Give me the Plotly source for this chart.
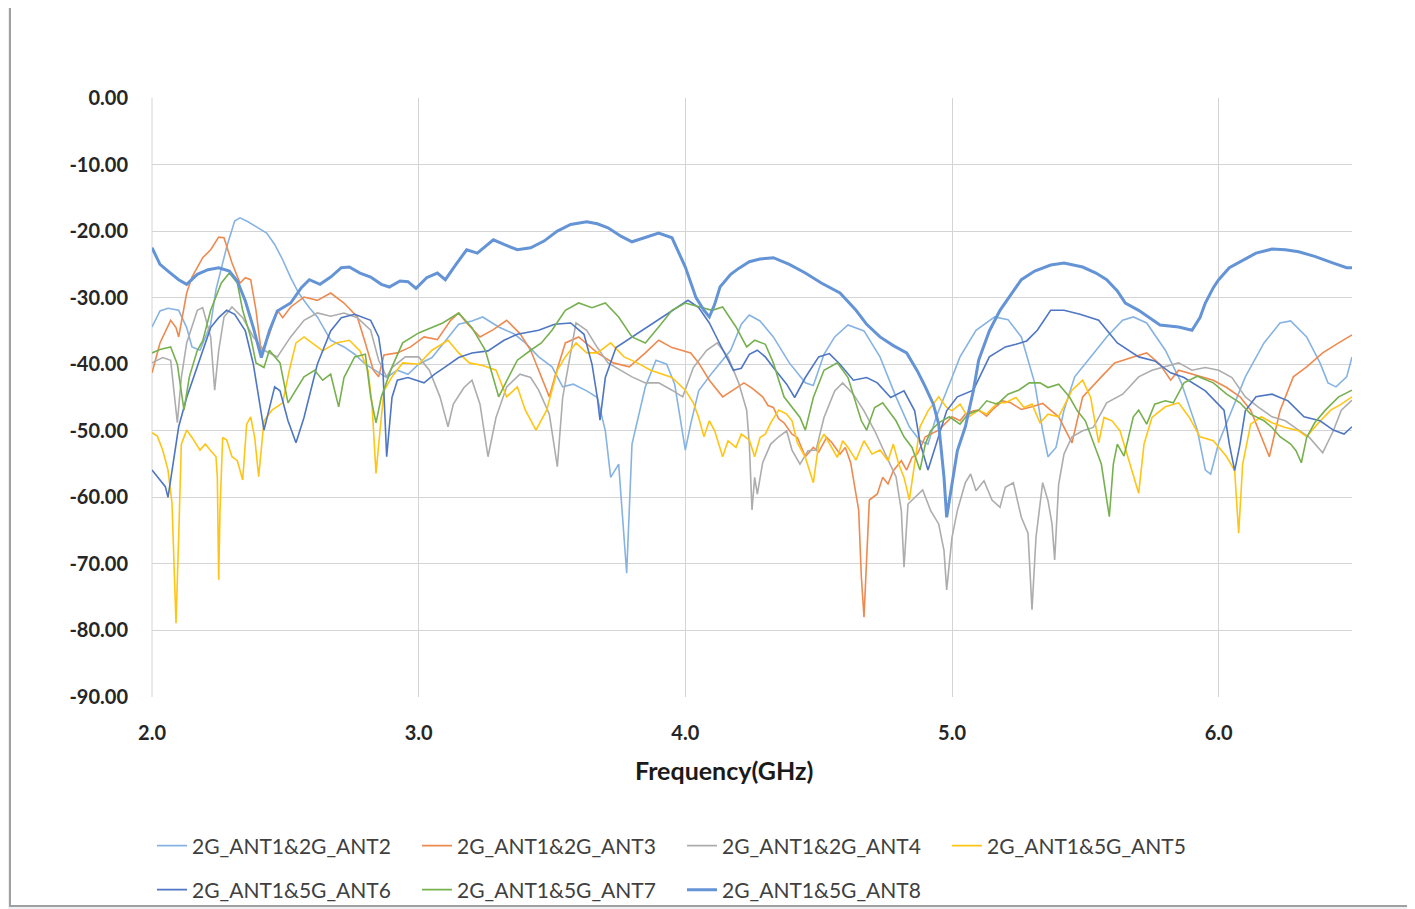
import plotly.graph_objects as go

# ---------------- data ----------------
series_names = ["2G_ANT1&2G_ANT2", "2G_ANT1&2G_ANT3", "2G_ANT1&2G_ANT4", "2G_ANT1&5G_ANT5",
                "2G_ANT1&5G_ANT6", "2G_ANT1&5G_ANT7", "2G_ANT1&5G_ANT8"]

ant2_f = [2.00, 2.03, 2.06, 2.10, 2.13, 2.15, 2.18, 2.22, 2.24, 2.28, 2.31, 2.33, 2.36, 2.40, 2.43, 2.46, 2.49,
          2.52, 2.55, 2.59, 2.62, 2.67, 2.72, 2.76, 2.80, 2.84, 2.88, 2.92, 2.96, 3.00, 3.05, 3.10, 3.15, 3.20,
          3.24, 3.30, 3.36, 3.40, 3.45, 3.50, 3.54, 3.58, 3.63, 3.67, 3.70, 3.72, 3.75, 3.78, 3.80, 3.85, 3.89,
          3.93, 3.96, 4.00, 4.02, 4.05, 4.10, 4.17, 4.21, 4.24, 4.28, 4.33, 4.39, 4.45, 4.48, 4.52, 4.56, 4.61,
          4.67, 4.73, 4.79, 4.84, 4.88, 4.91, 4.94, 5.00, 5.03, 5.09, 5.16, 5.21, 5.26, 5.31, 5.34, 5.36, 5.39,
          5.42, 5.46, 5.52, 5.58, 5.64, 5.68, 5.73, 5.80, 5.86, 5.92, 5.95, 5.97, 6.00, 6.05, 6.10, 6.17, 6.23,
          6.27, 6.33, 6.38, 6.41, 6.44, 6.48, 6.50]
ant2_db = [-34.4, -32.0, -31.6, -31.9, -34.5, -37.4, -37.9, -34.0, -28.8, -22.4, -18.5, -18.0, -18.6, -19.5, -20.3,
           -22.0, -24.3, -27.0, -29.3, -31.5, -32.9, -36.4, -37.4, -38.5, -40.0, -41.0, -42.0, -40.9, -41.5, -40.0,
           -39.0, -36.5, -34.0, -33.5, -32.9, -34.4, -35.5, -36.8, -38.9, -40.4, -43.4, -43.0, -44.0, -45.0, -50.0,
           -57.0, -55.0, -71.4, -52.0, -43.4, -39.4, -40.0, -43.0, -52.9, -49.0, -44.0, -41.3, -37.9, -34.0, -32.6,
           -33.5, -35.9, -39.8, -42.8, -43.2, -38.5, -35.9, -34.1, -35.0, -38.9, -44.9, -49.4, -51.5, -52.0, -48.0,
           -42.0, -38.9, -34.9, -32.9, -33.3, -35.9, -42.8, -50.0, -53.9, -52.5, -46.9, -41.9, -38.9, -35.9, -33.4,
           -32.9, -33.8, -37.9, -42.8, -49.9, -55.9, -56.5, -51.8, -46.9, -41.9, -36.8, -33.8, -33.5, -35.9, -39.8,
           -42.8, -43.4, -41.9, -38.9]

ant3_f = [2.00, 2.03, 2.07, 2.09, 2.10, 2.13, 2.15, 2.19, 2.22, 2.25, 2.27, 2.30, 2.33, 2.35, 2.37, 2.39, 2.41,
          2.44, 2.47, 2.49, 2.52, 2.57, 2.62, 2.67, 2.72, 2.77, 2.80, 2.83, 2.85, 2.87, 2.92, 2.97, 3.02, 3.07,
          3.12, 3.15, 3.18, 3.23, 3.28, 3.33, 3.38, 3.42, 3.45, 3.49, 3.51, 3.55, 3.60, 3.67, 3.73, 3.79, 3.85,
          3.90, 3.95, 4.02, 4.05, 4.09, 4.14, 4.18, 4.22, 4.25, 4.29, 4.31, 4.33, 4.35, 4.37, 4.40, 4.42, 4.45,
          4.48, 4.50, 4.53, 4.55, 4.58, 4.60, 4.62, 4.65, 4.66, 4.67, 4.68, 4.69, 4.72, 4.74, 4.76, 4.78, 4.81,
          4.83, 4.85, 4.87, 4.90, 4.95, 5.00, 5.03, 5.05, 5.08, 5.10, 5.13, 5.15, 5.19, 5.22, 5.26, 5.30, 5.34,
          5.37, 5.40, 5.45, 5.49, 5.56, 5.61, 5.68, 5.73, 5.78, 5.82, 5.85, 5.90, 5.98, 6.03, 6.08, 6.12, 6.16,
          6.19, 6.23, 6.28, 6.33, 6.39, 6.45, 6.50]
ant3_db = [-41.3, -36.8, -33.4, -34.5, -35.9, -29.3, -26.9, -24.0, -22.8, -20.9, -21.0, -24.8, -27.8, -27.0, -27.3,
           -31.9, -38.3, -35.5, -31.9, -33.0, -31.4, -29.9, -30.4, -29.3, -30.8, -32.9, -36.8, -40.9, -41.9, -38.6,
           -38.3, -37.4, -35.9, -36.3, -33.4, -32.3, -33.8, -35.9, -34.8, -33.4, -35.4, -37.9, -40.9, -44.9, -42.0,
           -36.8, -35.9, -38.3, -39.8, -40.4, -38.3, -36.4, -37.5, -38.3, -39.8, -42.4, -44.9, -43.8, -42.8, -43.6,
           -44.9, -46.2, -46.5, -48.2, -48.8, -50.5, -51.0, -53.9, -52.5, -53.2, -51.0, -51.8, -53.5, -52.5, -54.8,
           -61.9, -71.9, -78.0, -70.0, -60.4, -59.5, -57.0, -58.0, -56.0, -54.5, -55.9, -54.0, -53.5, -50.9, -49.9,
           -47.9, -48.5, -47.5, -47.0, -46.9, -47.8, -46.9, -45.5, -45.8, -46.8, -46.4, -45.9, -46.9, -47.9, -51.8,
           -44.9, -41.9, -39.8, -38.9, -38.3, -40.0, -42.4, -40.9, -41.5, -42.4, -43.5, -44.9, -46.9, -50.9, -53.9,
           -47.0, -41.9, -40.4, -38.3, -36.8, -35.6]

ant4_f = [2.00, 2.04, 2.07, 2.085, 2.095, 2.11, 2.13, 2.17, 2.19, 2.22, 2.235, 2.25, 2.27, 2.30, 2.34, 2.38, 2.42,
          2.47, 2.52, 2.57, 2.62, 2.67, 2.72, 2.77, 2.82, 2.85, 2.88, 2.90, 2.95, 3.00, 3.04, 3.08, 3.11, 3.13,
          3.17, 3.20, 3.23, 3.26, 3.29, 3.33, 3.38, 3.42, 3.45, 3.49, 3.52, 3.54, 3.57, 3.59, 3.63, 3.67, 3.71,
          3.76, 3.80, 3.85, 3.90, 3.95, 3.99, 4.03, 4.08, 4.12, 4.16, 4.20, 4.23, 4.24, 4.25, 4.26, 4.27, 4.29,
          4.32, 4.35, 4.38, 4.40, 4.43, 4.46, 4.49, 4.52, 4.56, 4.59, 4.63, 4.67, 4.71, 4.75, 4.79, 4.81, 4.82,
          4.835, 4.86, 4.89, 4.92, 4.95, 4.97, 4.98, 5.00, 5.02, 5.05, 5.07, 5.09, 5.12, 5.15, 5.18, 5.20, 5.23,
          5.26, 5.285, 5.30, 5.315, 5.34, 5.36, 5.375, 5.385, 5.40, 5.42, 5.45, 5.49, 5.53, 5.58, 5.64, 5.70, 5.75,
          5.80, 5.85, 5.90, 5.95, 6.00, 6.05, 6.10, 6.15, 6.20, 6.25, 6.30, 6.34, 6.39, 6.43, 6.46, 6.50]
ant4_db = [-39.8, -39.0, -39.4, -44.9, -48.8, -42.0, -36.8, -31.9, -31.5, -35.9, -43.9, -38.0, -32.9, -31.4, -33.0,
           -35.9, -37.9, -38.9, -35.9, -33.4, -32.3, -32.8, -32.3, -33.0, -34.9, -39.4, -41.9, -40.5, -38.9, -38.9,
           -40.9, -44.9, -49.4, -46.0, -43.5, -42.4, -46.0, -53.9, -48.0, -43.4, -41.5, -42.0, -43.9, -47.5, -55.4,
           -45.0, -37.9, -33.8, -34.9, -37.5, -39.8, -40.9, -41.9, -42.8, -42.8, -43.9, -44.9, -40.5, -37.9, -36.8,
           -38.9, -42.8, -46.9, -52.0, -61.9, -57.0, -59.5, -54.8, -52.0, -50.9, -50.0, -52.9, -55.0, -53.0, -52.9,
           -48.0, -44.0, -42.8, -44.5, -47.0, -50.0, -53.5, -56.9, -62.0, -70.5, -61.0, -60.0, -58.9, -62.0, -64.0,
           -68.0, -73.9, -66.0, -62.0, -57.8, -56.5, -59.0, -57.5, -60.4, -61.5, -58.5, -57.8, -63.0, -65.4, -76.9,
           -66.0, -57.8, -60.5, -64.0, -69.4, -58.0, -53.5, -50.9, -50.0, -49.5, -45.8, -44.5, -41.9, -40.9, -40.4,
           -39.8, -40.9, -40.5, -40.9, -42.0, -44.9, -46.5, -47.9, -48.5, -49.9, -51.0, -53.3, -50.0, -46.9, -45.4]

ant5_f = [2.00, 2.02, 2.04, 2.06, 2.075, 2.09, 2.10, 2.11, 2.13, 2.15, 2.18, 2.20, 2.22, 2.24, 2.245, 2.25, 2.255,
          2.265, 2.28, 2.30, 2.32, 2.34, 2.355, 2.37, 2.385, 2.40, 2.42, 2.45, 2.49, 2.515, 2.54, 2.57, 2.60, 2.64,
          2.69, 2.74, 2.78, 2.81, 2.825, 2.84, 2.855, 2.87, 2.90, 2.94, 3.00, 3.05, 3.11, 3.15, 3.19, 3.24, 3.29,
          3.33, 3.37, 3.40, 3.44, 3.48, 3.52, 3.55, 3.59, 3.63, 3.67, 3.72, 3.77, 3.82, 3.87, 3.90, 3.95, 4.00,
          4.03, 4.05, 4.07, 4.09, 4.11, 4.14, 4.16, 4.19, 4.21, 4.24, 4.26, 4.28, 4.30, 4.32, 4.35, 4.38, 4.40,
          4.42, 4.45, 4.48, 4.50, 4.52, 4.55, 4.57, 4.59, 4.61, 4.64, 4.67, 4.70, 4.73, 4.76, 4.78, 4.80, 4.82,
          4.84, 4.86, 4.88, 4.91, 4.95, 4.98, 5.00, 5.03, 5.06, 5.10, 5.13, 5.17, 5.20, 5.24, 5.27, 5.30, 5.33,
          5.36, 5.40, 5.43, 5.45, 5.49, 5.52, 5.55, 5.57, 5.60, 5.63, 5.66, 5.68, 5.70, 5.72, 5.75, 5.80, 5.85,
          5.89, 5.93, 5.98, 6.03, 6.06, 6.075, 6.09, 6.12, 6.16, 6.20, 6.25, 6.30, 6.33, 6.37, 6.42, 6.46, 6.50]
ant5_db = [-50.3, -50.8, -52.9, -55.9, -60.9, -78.9, -66.0, -52.0, -49.9, -51.0, -52.9, -52.0, -53.0, -53.9, -57.0,
           -72.4, -62.0, -51.0, -51.4, -53.9, -54.5, -57.4, -49.0, -47.9, -51.0, -56.9, -48.5, -46.9, -45.8, -40.9,
           -36.8, -35.9, -36.8, -38.0, -36.8, -36.4, -38.0, -40.9, -46.0, -56.4, -50.0, -44.0, -41.9, -39.8, -40.0,
           -37.9, -36.4, -38.3, -39.8, -40.2, -40.9, -44.9, -43.4, -46.9, -49.9, -46.9, -40.9, -38.9, -36.8, -38.3,
           -38.3, -36.8, -38.9, -39.8, -40.9, -41.3, -42.0, -43.9, -45.8, -48.0, -50.9, -48.5, -50.0, -53.9, -51.5,
           -52.5, -50.5, -51.4, -53.9, -51.0, -50.5, -48.8, -46.9, -47.5, -48.5, -51.8, -54.0, -57.8, -52.0, -50.5,
           -52.5, -54.0, -51.5, -52.5, -54.4, -51.5, -53.5, -52.9, -54.5, -52.0, -55.0, -57.0, -60.4, -55.0, -49.4,
           -47.0, -44.9, -46.5, -47.0, -46.0, -48.0, -46.9, -47.5, -45.8, -45.8, -45.0, -46.5, -46.0, -48.8, -47.5,
           -47.9, -45.5, -43.9, -42.4, -45.0, -51.8, -48.0, -48.5, -50.0, -54.0, -56.9, -59.4, -52.0, -48.0, -46.4,
           -45.8, -48.0, -50.9, -51.5, -53.9, -56.0, -65.4, -55.0, -49.0, -47.9, -48.8, -49.5, -50.0, -50.9, -49.0,
           -46.9, -46.0, -44.9]

ant6_f = [2.00, 2.03, 2.05, 2.06, 2.08, 2.10, 2.13, 2.18, 2.22, 2.25, 2.28, 2.31, 2.35, 2.38, 2.42, 2.46, 2.48,
          2.51, 2.54, 2.57, 2.62, 2.67, 2.71, 2.76, 2.82, 2.85, 2.865, 2.88, 2.90, 2.92, 2.96, 3.02, 3.06, 3.10,
          3.15, 3.20, 3.26, 3.32, 3.37, 3.45, 3.51, 3.57, 3.62, 3.65, 3.67, 3.68, 3.70, 3.74, 3.82, 3.88, 3.95,
          4.01, 4.05, 4.09, 4.13, 4.18, 4.21, 4.24, 4.27, 4.30, 4.33, 4.38, 4.41, 4.45, 4.50, 4.54, 4.58, 4.63,
          4.68, 4.72, 4.77, 4.82, 4.86, 4.88, 4.91, 4.94, 4.98, 5.02, 5.08, 5.14, 5.20, 5.24, 5.28, 5.32, 5.37,
          5.42, 5.48, 5.55, 5.62, 5.70, 5.76, 5.82, 5.87, 5.95, 6.02, 6.04, 6.06, 6.08, 6.10, 6.14, 6.20, 6.26,
          6.32, 6.38, 6.43, 6.47, 6.50]
ant6_db = [-55.9, -57.4, -58.4, -60.0, -54.4, -49.4, -45.0, -39.0, -34.5, -33.0, -31.9, -32.5, -35.0, -40.0, -49.9,
           -43.4, -44.0, -48.5, -51.8, -48.0, -40.0, -35.0, -33.0, -32.5, -33.4, -35.9, -40.0, -53.9, -45.0, -42.4,
           -42.0, -42.8, -41.5, -40.4, -39.0, -38.3, -38.0, -36.4, -35.5, -34.9, -34.0, -33.8, -35.5, -40.0, -45.0,
           -48.4, -42.0, -37.5, -35.4, -33.8, -31.9, -30.4, -31.5, -33.8, -37.0, -40.9, -40.6, -38.5, -37.9, -38.9,
           -40.5, -43.0, -45.0, -42.0, -38.9, -38.4, -40.0, -42.4, -42.0, -42.8, -45.0, -44.0, -47.0, -51.8, -55.9,
           -52.0, -47.0, -44.9, -43.9, -38.9, -37.4, -37.0, -36.5, -34.9, -31.9, -31.9, -32.5, -33.4, -36.8, -38.9,
           -39.5, -41.3, -42.0, -44.0, -46.9, -52.0, -56.0, -52.0, -47.0, -44.9, -44.5, -45.5, -47.9, -48.5, -49.9,
           -50.5, -49.4]

ant7_f = [2.00, 2.03, 2.07, 2.095, 2.12, 2.14, 2.17, 2.19, 2.22, 2.26, 2.29, 2.32, 2.34, 2.37, 2.39, 2.42, 2.44,
          2.48, 2.51, 2.53, 2.57, 2.61, 2.64, 2.67, 2.70, 2.72, 2.76, 2.80, 2.82, 2.84, 2.86, 2.90, 2.94, 3.00,
          3.05, 3.09, 3.15, 3.20, 3.25, 3.30, 3.33, 3.37, 3.42, 3.46, 3.50, 3.55, 3.60, 3.65, 3.70, 3.75, 3.80,
          3.85, 3.90, 3.95, 4.00, 4.05, 4.10, 4.14, 4.19, 4.23, 4.26, 4.30, 4.33, 4.37, 4.41, 4.43, 4.45, 4.48,
          4.52, 4.57, 4.61, 4.64, 4.66, 4.68, 4.71, 4.74, 4.77, 4.79, 4.82, 4.85, 4.88, 4.90, 4.92, 4.95, 4.99,
          5.03, 5.06, 5.10, 5.13, 5.17, 5.21, 5.25, 5.29, 5.33, 5.36, 5.40, 5.44, 5.47, 5.50, 5.53, 5.56, 5.575,
          5.59, 5.605, 5.62, 5.645, 5.68, 5.70, 5.73, 5.76, 5.80, 5.83, 5.87, 5.92, 5.98, 6.03, 6.08, 6.12, 6.17,
          6.20, 6.23, 6.27, 6.29, 6.31, 6.33, 6.36, 6.40, 6.45, 6.50]
ant7_db = [-38.3, -37.8, -37.4, -40.0, -46.9, -41.9, -37.9, -36.5, -31.9, -27.8, -26.3, -27.8, -31.9, -35.9, -39.8,
           -40.5, -37.9, -39.8, -45.8, -44.5, -41.9, -40.9, -42.4, -41.5, -46.4, -42.0, -38.9, -38.5, -44.9, -48.8,
           -44.9, -40.4, -36.8, -35.3, -34.5, -33.8, -32.3, -34.5, -37.9, -44.9, -42.5, -39.4, -37.9, -36.8, -34.9,
           -31.9, -30.8, -31.5, -30.8, -32.9, -35.9, -36.8, -34.4, -31.9, -30.8, -31.4, -31.9, -31.4, -34.4, -37.4,
           -36.4, -37.0, -39.8, -44.9, -46.9, -48.0, -49.9, -45.0, -40.9, -39.8, -42.0, -45.8, -48.5, -49.9, -46.5,
           -45.8, -47.5, -48.5, -50.9, -52.5, -55.9, -52.0, -50.0, -48.8, -47.9, -49.0, -47.5, -46.9, -45.5, -46.0,
           -44.5, -43.9, -42.8, -42.8, -43.5, -43.0, -44.9, -47.0, -48.5, -51.8, -55.0, -59.0, -62.9, -55.0, -52.0,
           -53.8, -47.9, -46.9, -49.0, -46.0, -45.5, -45.8, -42.8, -41.8, -42.8, -44.5, -45.8, -47.5, -48.5, -49.5,
           -50.9, -52.0, -53.0, -54.8, -51.0, -48.8, -46.9, -44.9, -43.9]

ant8_f = [2.00, 2.03, 2.06, 2.10, 2.13, 2.17, 2.21, 2.25, 2.29, 2.32, 2.35, 2.38, 2.41, 2.44, 2.47, 2.52, 2.56,
          2.59, 2.63, 2.67, 2.71, 2.74, 2.78, 2.82, 2.86, 2.89, 2.93, 2.96, 2.99, 3.03, 3.07, 3.10, 3.14, 3.18,
          3.22, 3.28, 3.32, 3.37, 3.42, 3.47, 3.52, 3.57, 3.63, 3.67, 3.71, 3.76, 3.80, 3.85, 3.90, 3.95, 4.00,
          4.04, 4.07, 4.09, 4.11, 4.13, 4.17, 4.20, 4.24, 4.28, 4.33, 4.39, 4.45, 4.51, 4.58, 4.64, 4.68, 4.73,
          4.78, 4.83, 4.87, 4.90, 4.93, 4.95, 4.97, 4.98, 5.00, 5.02, 5.05, 5.08, 5.10, 5.14, 5.18, 5.22, 5.26,
          5.31, 5.37, 5.42, 5.49, 5.54, 5.58, 5.62, 5.65, 5.70, 5.74, 5.78, 5.85, 5.90, 5.93, 5.95, 5.98, 6.00,
          6.04, 6.08, 6.14, 6.20, 6.25, 6.30, 6.36, 6.43, 6.48, 6.50]
ant8_db = [-22.5, -25.0, -26.0, -27.3, -28.0, -26.5, -25.8, -25.5, -26.0, -27.5, -30.5, -34.5, -39.0, -35.0, -32.0,
           -30.8, -28.5, -27.3, -28.0, -26.9, -25.5, -25.4, -26.3, -26.9, -28.0, -28.4, -27.5, -27.6, -28.6, -27.0,
           -26.3, -27.3, -25.0, -22.8, -23.3, -21.3, -22.0, -22.8, -22.5, -21.5, -20.0, -19.0, -18.6, -18.9, -19.5,
           -20.8, -21.6, -21.0, -20.3, -21.0, -25.4, -30.0, -31.9, -32.9, -31.0, -28.4, -26.5, -25.6, -24.6, -24.2,
           -24.0, -25.0, -26.3, -27.8, -29.3, -31.9, -34.0, -35.9, -37.2, -38.3, -41.0, -43.4, -46.0, -49.0, -57.0,
           -63.0, -58.0, -53.0, -49.4, -44.0, -39.4, -35.0, -31.9, -29.5, -27.3, -26.0, -25.1, -24.8, -25.4, -26.3,
           -27.3, -29.0, -30.8, -31.9, -33.0, -34.1, -34.4, -34.9, -33.0, -30.8, -28.5, -27.3, -25.5, -24.6, -23.3,
           -22.7, -22.8, -23.1, -23.8, -24.8, -25.5, -25.5]

y_tick_vals = [0, -10, -20, -30, -40, -50, -60, -70, -80, -90]
y_tick_text = ["0.00", "-10.00", "-20.00", "-30.00", "-40.00", "-50.00", "-60.00", "-70.00", "-80.00", "-90.00"]
x_tick_vals = [2.0, 3.0, 4.0, 5.0, 6.0]
x_tick_text = ["2.0", "3.0", "4.0", "5.0", "6.0"]
x_title = "Frequency(GHz)"

# ---------------- styling ----------------
colors = ["#86B3E2", "#EE8A50", "#ADADAD", "#FFC515", "#4E76C4", "#77B04F", "#6494D6"]
widths = [1.6, 1.6, 1.6, 1.6, 1.6, 1.6, 3.0]
legend_of = ["legend", "legend", "legend", "legend", "legend2", "legend2", "legend2"]

xs = [ant2_f, ant3_f, ant4_f, ant5_f, ant6_f, ant7_f, ant8_f]
ys = [ant2_db, ant3_db, ant4_db, ant5_db, ant6_db, ant7_db, ant8_db]

fig = go.Figure()
for name, x, y, c, w, lg in zip(series_names, xs, ys, colors, widths, legend_of):
    fig.add_trace(go.Scatter(x=x, y=y, mode="lines", name=name,
                             line=dict(color=c, width=w), legend=lg))

# The page body adds an 8px offset; the figure is made 8px smaller so that it
# fits in the window, and all screen positions are shifted by OFF.
OFF = 8
W, H = 1415 - OFF, 909 - OFF
SL, SR, ST, SB = 152, 1352, 98, 697          # plot area on screen
L, T = SL - OFF, ST - OFF
R = W - (SR - OFF)
B = H - (SB - OFF)
pw, ph = SR - SL, SB - ST


def px_x(px):
    return (px - SL) / pw


def px_y(py):
    return (SB - py) / ph


def cont_x(px):
    return (px - OFF) / W


def cont_y(py):
    return 1 - (py - OFF) / H


legend_font = dict(family="Lato, Open Sans, sans-serif", size=21, color="#404040")
tick_font = dict(family="Lato, Open Sans, sans-serif", size=20, color="#262626", weight="bold")

fig.update_layout(
    width=W, height=H,
    margin=dict(l=L, r=R, t=T, b=B, autoexpand=False),
    paper_bgcolor="#EEF1F4",
    plot_bgcolor="white",
    showlegend=True,
    legend=dict(orientation="h", xref="container", yref="container",
                x=cont_x(152), y=cont_y(846), xanchor="left", yanchor="middle",
                font=legend_font, entrywidth=220, entrywidthmode="pixels",
                bgcolor="rgba(0,0,0,0)", traceorder="normal"),
    legend2=dict(orientation="h", xref="container", yref="container",
                 x=cont_x(152), y=cont_y(890), xanchor="left", yanchor="middle",
                 font=legend_font, entrywidth=220, entrywidthmode="pixels",
                 bgcolor="rgba(0,0,0,0)", traceorder="normal"),
    xaxis=dict(range=[2.0, 6.5], tickvals=x_tick_vals, ticktext=x_tick_text,
               showgrid=True, gridcolor="#D4D4D4", gridwidth=1, zeroline=False, automargin=False,
               showline=False, ticks="", ticklabelstandoff=22, tickfont=tick_font),
    yaxis=dict(range=[-90, 0], tickvals=y_tick_vals, ticktext=y_tick_text,
               showgrid=True, gridcolor="#D4D4D4", gridwidth=1, zeroline=False, automargin=False,
               showline=False, ticks="", ticklabelstandoff=23, tickfont=tick_font),
    shapes=[
        dict(type="rect", xref="paper", yref="paper", layer="below",
             x0=px_x(10), x1=px_x(1430), y0=px_y(906), y1=px_y(7),
             line=dict(color="#A0A0A0", width=2), fillcolor="white"),
        dict(type="line", xref="paper", yref="paper", layer="below",
             x0=0, x1=0, y0=0, y1=1, line=dict(color="#D4D4D4", width=1)),
    ],
    annotations=[
        dict(text=x_title, xref="paper", yref="paper", x=px_x(724), y=px_y(770),
             xanchor="center", yanchor="middle", showarrow=False,
             font=dict(family="Lato, Open Sans, sans-serif", size=25, color="#1A1A1A", weight="bold")),
    ],
)

fig.write_html("out.html")
